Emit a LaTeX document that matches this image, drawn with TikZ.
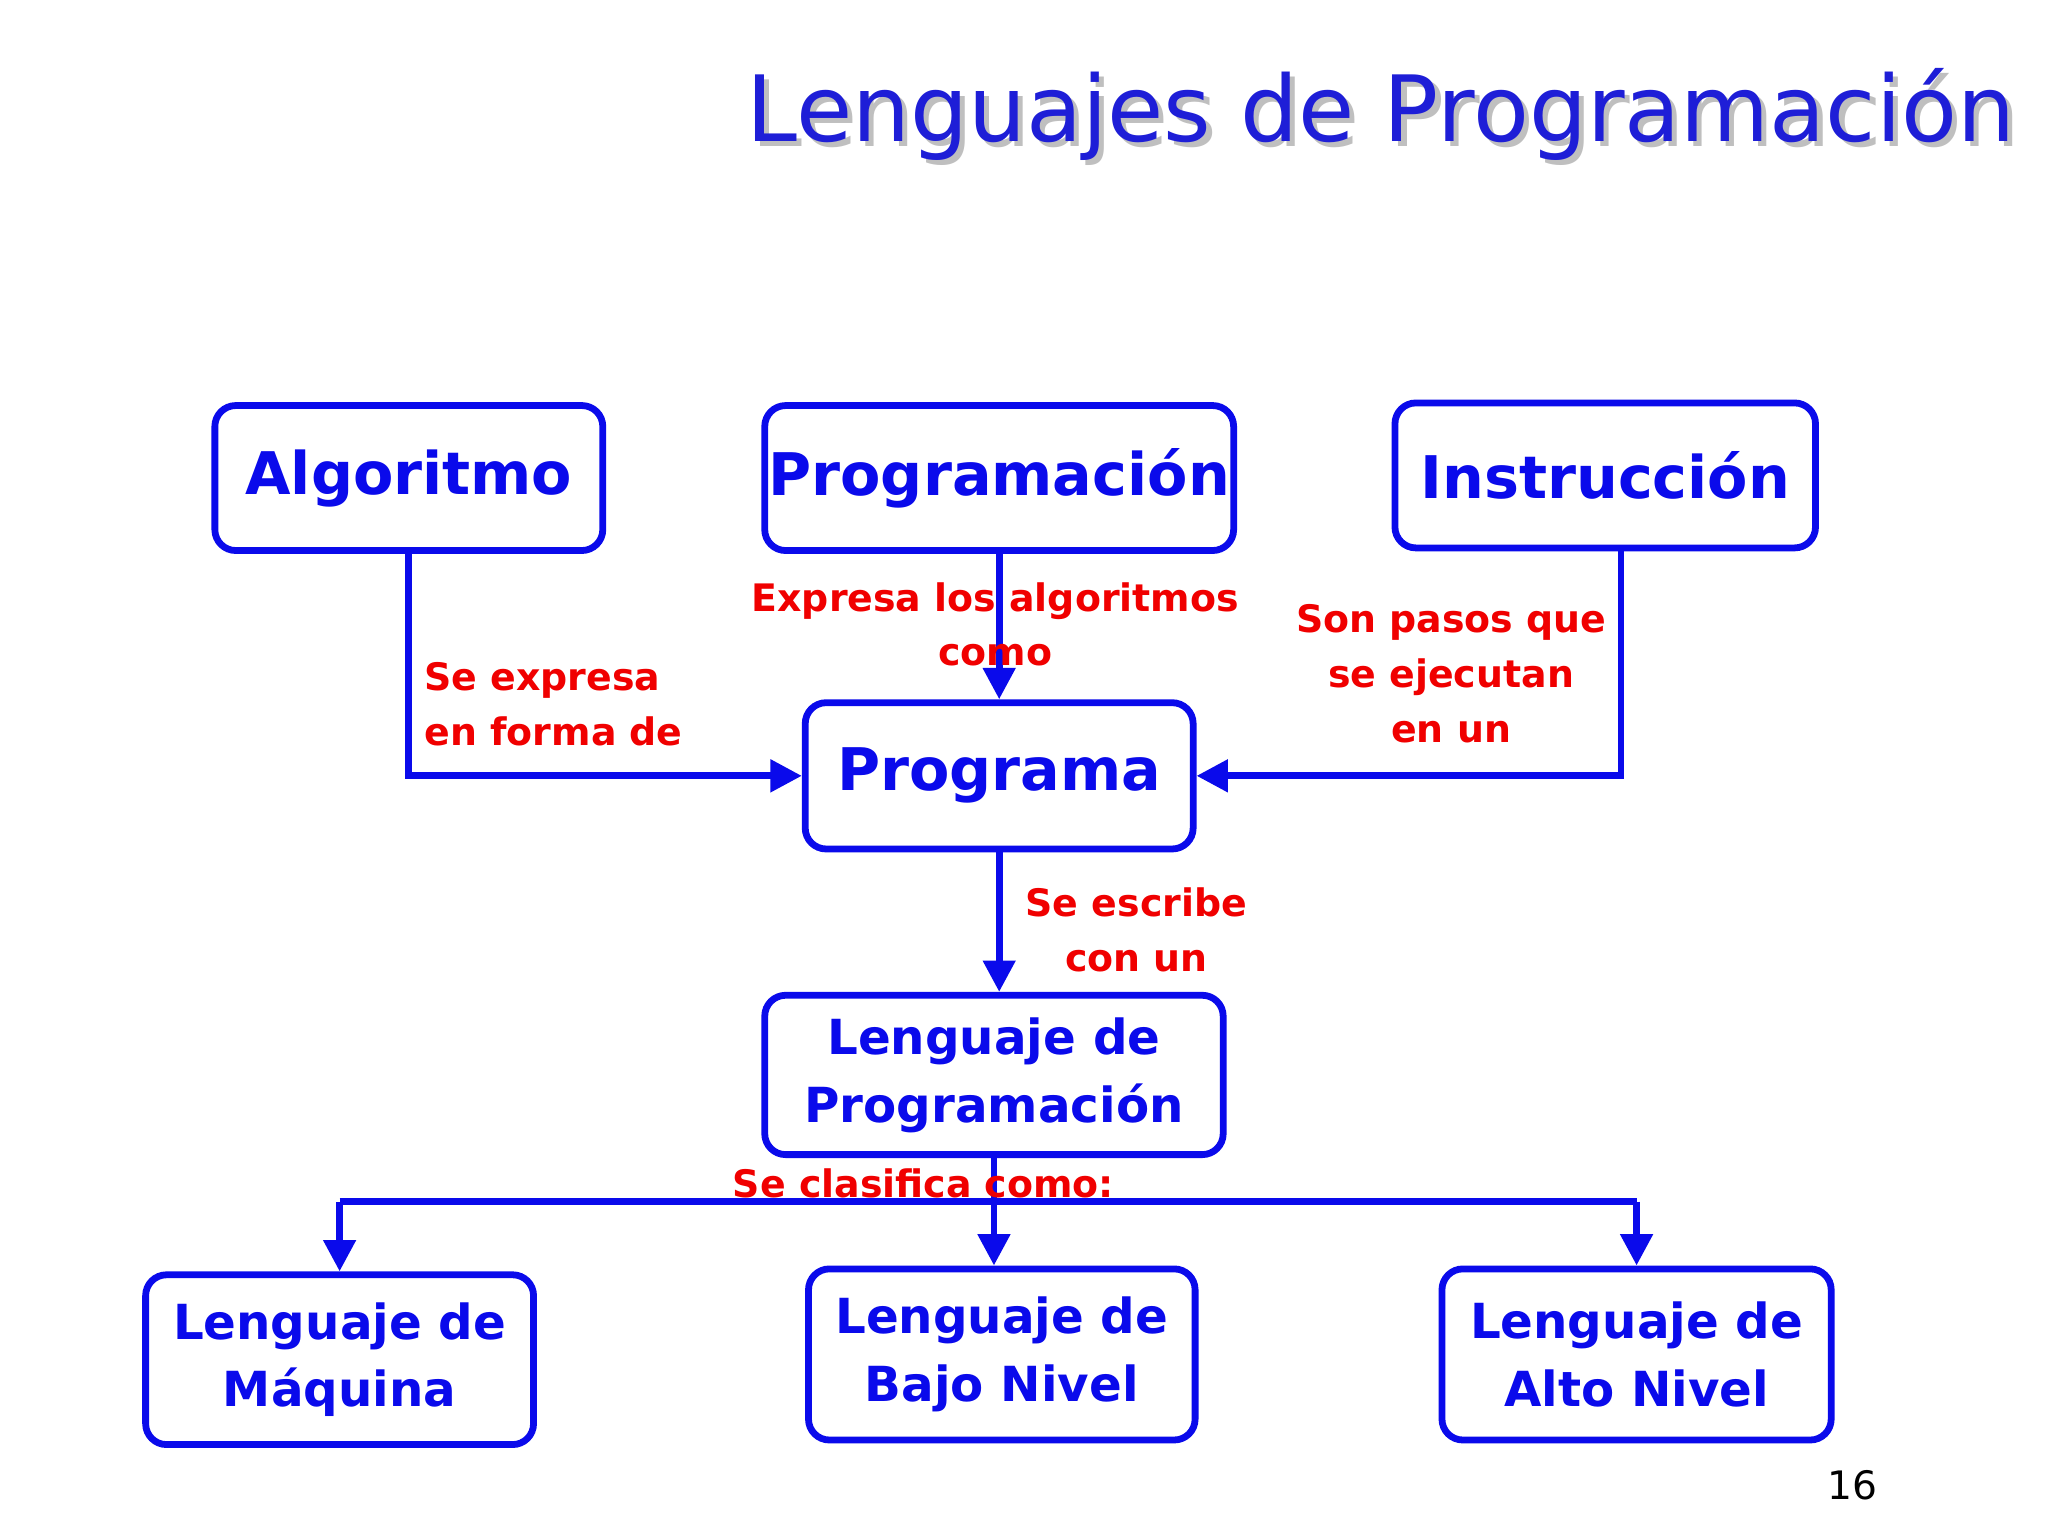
\documentclass[tikz,border=0pt]{standalone}
\usepackage{fontspec}
\setmainfont{DejaVu Sans}
\newfontfamily\boxfont{DejaVu Sans}
\usetikzlibrary{arrows.meta}
\definecolor{bl}{RGB}{10,10,235}
\definecolor{tb}{RGB}{30,30,215}
\definecolor{rd}{RGB}{240,0,0}
\begin{document}
\begin{tikzpicture}[x=0.5pt,y=-0.5pt,
  bx/.style={draw=bl,line width=2.6pt,rounded corners=8pt,inner sep=0pt,text=bl,font=\boxfont\bfseries\fontsize{22.5}{27}\selectfont,align=center},
  sbx/.style={bx,font=\boxfont\bfseries\fontsize{18.5}{26}\selectfont},
  con/.style={draw=bl,line width=2.6pt,-{Triangle[length=12pt,width=12pt]}},
  ln/.style={draw=bl,line width=2.6pt},
  lab/.style={text=rd,font=\bfseries\fontsize{14.5}{21}\selectfont,align=center}]
\useasboundingbox (0,0) rectangle (1568,1176);
\fill[white] (0,0) rectangle (1568,1176);
\node[anchor=base east,text=gray!50,font=\fontsize{35}{40}\selectfont] at (1554,112) {Lenguajes de Programación};
\node[anchor=base east,text=tb,font=\fontsize{35}{40}\selectfont] (title) at (1550,108) {Lenguajes de Programación};
\node[bx,minimum width=148.5pt,minimum height=55.5pt] (alg) at (313,366) {Algoritmo};
\node[bx,minimum width=179.5pt,minimum height=55.5pt] (prg) at (765,366) {Programación};
\node[bx,minimum width=161pt,minimum height=55.5pt] (ins) at (1229,364) {Instrucción};
\node[bx,minimum width=148.5pt,minimum height=56pt] (pm) at (765,594) {Programa};
\node[sbx,minimum width=175.5pt,minimum height=61pt] (lp) at (761,823) {Lenguaje de\\Programación};
\node[sbx,minimum width=148.5pt,minimum height=65pt] (lm) at (260,1041) {Lenguaje de\\Máquina};
\node[sbx,minimum width=148pt,minimum height=65.5pt] (lb) at (767,1037) {Lenguaje de\\Bajo Nivel};
\node[sbx,minimum width=149pt,minimum height=65.5pt] (la) at (1253,1037) {Lenguaje de\\Alto Nivel};
\coordinate (j) at (761,920);
\draw[con] (alg.south) |- (pm.west);
\draw[con] (prg.south) -- (pm.north);
\draw[con] (ins.south -| 1241,0) |- (pm.east);
\draw[con] (pm.south) -- (pm.south |- lp.north);
\draw[ln] (lp.south) -- (j);
\draw[ln] (lm.north |- j) -- (la.north |- j);
\draw[con] (j) -- (j |- lb.north);
\draw[con] (lm.north |- j) -- (lm.north);
\draw[con] (la.north |- j) -- (la.north);
\node[lab,align=left,anchor=north west] (l1) at (318,500) {Se expresa\\en forma de};
\node[lab] (l2) at (762,478) {Expresa los algoritmos\\como};
\node[lab] (l3) at (1111,516) {Son pasos que\\se ejecutan\\en un};
\node[lab] (l4) at (870,712) {Se escribe\\con un};
\node[lab] (l5) at (707,906) {Se clasifica como:};
\node[anchor=base,font=\fontsize{15}{18}\selectfont] (pg) at (1418,1148) {16};
\end{tikzpicture}
\end{document}
